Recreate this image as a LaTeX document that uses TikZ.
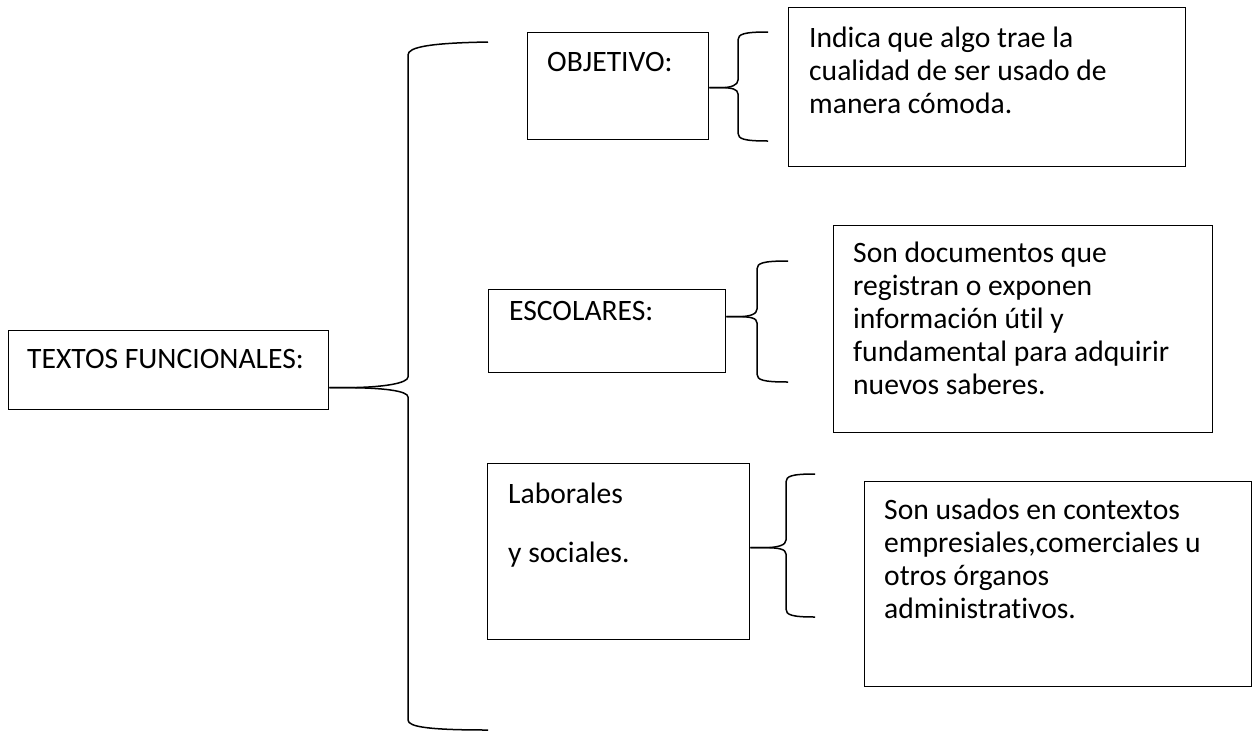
\documentclass[tikz,border=0pt]{standalone}
\usepackage{fontspec}
\setmainfont{Carlito}[Ligatures=NoCommon]
\usetikzlibrary{positioning}
\begin{document}
\begin{tikzpicture}[x=1pt,y=-1pt]

% definitions
\tikzstyle{frame} = [rectangle, draw=black, line width=1.3pt, anchor=north west, inner sep=0pt]

\tikzstyle{txt} = [align=left, inner sep=0pt, font=\fontsize{29.6}{33}\selectfont]

\tikzstyle{brace} = [draw=black, line width=1.5pt]

\useasboundingbox (0,0) rectangle (1254,732);

% the boxes
\node (root) [frame, minimum width=320pt, minimum height=79pt] at (8,330) {};
\node (rootT) [txt, below right=19pt and 19pt of root.north west] {TEXTOS FUNCIONALES:};

\node (obj) [frame, minimum width=181pt, minimum height=107pt] at (527,32) {};
\node (objT) [txt, below right=20pt and 20pt of obj.north west] {OBJETIVO:};

\node (d1) [frame, minimum width=397pt, minimum height=159pt] at (788,7) {};
\node (d1T) [txt, below right=20pt and 21pt of d1.north west] {Indica que algo trae la\\cualidad de ser usado de\\manera cómoda.};

\node (esc) [frame, minimum width=237pt, minimum height=83pt] at (488,289) {};
\node (escT) [txt, below right=12pt and 21pt of esc.north west] {ESCOLARES:};

\node (d2) [frame, minimum width=379pt, minimum height=207pt] at (833,225) {};
\node (d2T) [txt, below right=17pt and 20pt of d2.north west] {Son documentos que\\registran o exponen\\información útil y\\fundamental para adquirir\\nuevos saberes.};

\node (lab) [frame, minimum width=262pt, minimum height=176pt] at (487,463) {};
\node (labT) [txt, below right=20pt and 21pt of lab.north west] {Laborales\\[26pt]y sociales.};

\node (d3) [frame, minimum width=387pt, minimum height=205pt] at (864,481) {};
\node (d3T) [txt, below right=18pt and 20pt of d3.north west] {Son usados en contextos\\empresiales,comerciales u\\otros órganos\\administrativos.};

% brace tips
\coordinate (rootTip) at ([yshift=-17.5pt]root.east);
\coordinate (objTip) at ([yshift=-1.5pt]obj.east);
\coordinate (escTip) at ([yshift=14.5pt]esc.east);
\coordinate (labTip) at ([yshift=4pt]lab.east);

% the braces
\draw [brace] (rootTip) -- ++(15,0) .. controls +(40,0) and +(0,6) .. (408,377) -- (408,55) .. controls (408,47) and (430,43) .. (488,42);
\draw [brace] (rootTip) -- ++(15,0) .. controls +(40,0) and +(0,-6) .. (408,397) -- (408,720) .. controls (408,727) and (430,730) .. (488,730);

\draw [brace] (objTip) -- ++(12,0) .. controls +(10,0) and +(0,5) .. (738,80) -- (738,40) .. controls (738,34) and (744,32) .. (768,32);
\draw [brace] (objTip) -- ++(12,0) .. controls +(10,0) and +(0,-5) .. (738,94) -- (738,133) .. controls (738,139) and (744,141) .. (768,141);

\draw [brace] (escTip) -- ++(12,0) .. controls +(12,0) and +(0,5) .. (757,309) -- (757,269) .. controls (757,263) and (763,261) .. (788,261);
\draw [brace] (escTip) -- ++(12,0) .. controls +(12,0) and +(0,-5) .. (757,323) -- (757,374) .. controls (757,380) and (763,382) .. (788,382);

\draw [brace] (labTip) -- ++(14,0) .. controls +(14,0) and +(0,5) .. (786,540) -- (786,482) .. controls (786,476) and (792,474) .. (815,474);
\draw [brace] (labTip) -- ++(14,0) .. controls +(14,0) and +(0,-5) .. (786,554) -- (786,609) .. controls (786,615) and (792,617) .. (815,617);

\end{tikzpicture}
\end{document}
